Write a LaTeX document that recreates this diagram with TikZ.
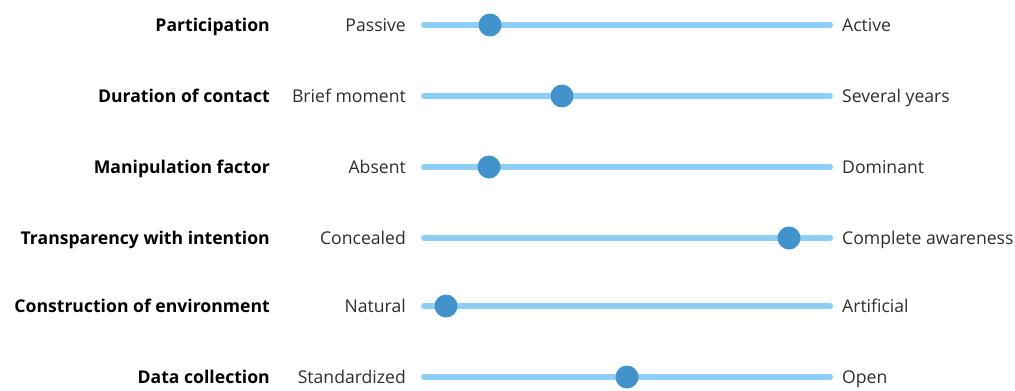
\documentclass[tikz,border=0pt]{standalone}
\usepackage{fontspec}
\setmainfont{Open Sans}
\definecolor{track}{RGB}{140,206,246}
\definecolor{knob}{RGB}{66,147,203}
\definecolor{txt}{RGB}{45,45,45}
\begin{document}
\begin{tikzpicture}[x=1pt,y=-1pt,
  cat/.style={anchor=base east,inner sep=0pt,font=\fontsize{17.6}{21}\selectfont\bfseries,text=black},
  lo/.style={anchor=base east,inner sep=0pt,font=\fontsize{17.6}{21}\selectfont,text=txt},
  hi/.style={anchor=base west,inner sep=0pt,font=\fontsize{17.6}{21}\selectfont,text=txt},
  bar/.style={draw=track,line width=6pt,line cap=round},
  knobstyle/.style={circle,fill=knob,minimum size=23pt,inner sep=0pt}]
\useasboundingbox (0,0) rectangle (1015,391);
\foreach \i/\y/\k/\c/\l/\r in {
  1/25/490/Participation/Passive/Active,
  2/96/562/Duration of contact/Brief moment/Several years,
  3/167/489/Manipulation factor/Absent/Dominant,
  4/238/789/Transparency with intention/Concealed/Complete awareness,
  5/306/446/Construction of environment/Natural/Artificial,
  6/377/627/Data collection/Standardized/Open}{
  \node[cat] (c\i) at (270,\y+6.5) {\c};
  \node[lo] (l\i) at (406,\y+6.5) {\l};
  \node[hi] (r\i) at (842,\y+6.5) {\r};
  \coordinate (s\i) at (424,\y);
  \coordinate (e\i) at (830,\y);
  \draw[bar] (s\i) -- (e\i);
  \node[knobstyle] (k\i) at (\k,\y) {};
}
\end{tikzpicture}
\end{document}
